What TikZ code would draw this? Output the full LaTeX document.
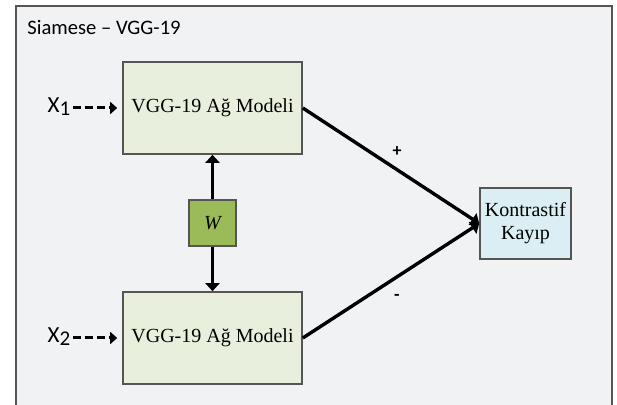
\documentclass[tikz,border=0pt]{standalone}
\usepackage{fontspec}
\setmainfont{Liberation Serif}
\setsansfont{Carlito}
\usepackage{tikz}
\usetikzlibrary{arrows.meta,calc}

\definecolor{framebg}{HTML}{F1F2F4}
\definecolor{netfill}{HTML}{E8EFDC}
\definecolor{wfill}{HTML}{9BBB59}
\definecolor{lossfill}{HTML}{DAEEF3}
\definecolor{edgegray}{HTML}{555555}

\tikzset{
	netbox/.style={draw=edgegray, line width=0.8pt, fill=netfill, minimum width=89.5pt, minimum height=46pt, inner sep=0pt, font=\fontsize{10}{11}\selectfont},
	wbox/.style={draw=edgegray, line width=0.8pt, fill=wfill, minimum width=23.5pt, minimum height=23pt, inner sep=0pt, font=\fontsize{10}{12}\selectfont\itshape},
	lossbox/.style={draw=edgegray, line width=0.8pt, fill=lossfill, minimum width=45.5pt, minimum height=35.5pt, inner sep=0pt, align=center, font=\fontsize{10}{11.5}\selectfont},
	inlabel/.style={font=\sffamily\fontsize{11.5}{12}\selectfont, inner sep=0pt},
	signlabel/.style={font=\sffamily\bfseries\fontsize{9}{10}\selectfont, inner sep=0pt},
	feed/.style={line width=1.5pt, dash pattern=on 4pt off 2pt, -{Triangle[width=6pt,length=3.5pt]}},
	flow/.style={line width=1.7pt, -{Triangle[width=7pt,length=4pt]}}
}

\begin{document}
\begin{tikzpicture}[x=0.5pt, y=-0.5pt]
		%----------------------------------------------------
		% Canvas and outer frame (open at the bottom)
		%----------------------------------------------------
		\useasboundingbox (0,0) rectangle (617,405);
		\fill[framebg] (16,6) rectangle (612,405);
		\draw[edgegray, line width=0.8pt] (16,405) -- (16,6) -- (612,6) -- (612,405);
		\node[anchor=west, font=\sffamily\fontsize{10.3}{12}\selectfont, inner sep=0pt] (title) at (27,27) {Siamese -- VGG-19};
		
		%----------------------------------------------------
		% The two branches and the shared weights
		%----------------------------------------------------
		\node[netbox] (netA) at (212.5,108) {VGG-19 Ağ Modeli};
		\node[netbox] (netB) at (212.5,338) {VGG-19 Ağ Modeli};
		\node[wbox] (W) at (212.5,223) {W};
		\node[lossbox] (loss) at (525.5,223.5) {Kontrastif\\Kayıp};
		
		\node[inlabel] (xA) at (59,107) {X\raisebox{-1.5pt}{\fontsize{10.5}{11}\selectfont 1}};
		\node[inlabel] (xB) at (59,337) {X\raisebox{-1.5pt}{\fontsize{10.5}{11}\selectfont 2}};
		
		%----------------------------------------------------
		% Connectors
		%----------------------------------------------------
		\draw[feed, shorten >=2.5pt] (xA.east) ++(2,1) coordinate (xAs) -- (xAs -| netA.west);
		\draw[feed, shorten >=2.5pt] (xB.east) ++(2,1) coordinate (xBs) -- (xBs -| netB.west);
		
		\draw[flow] (W.north) -- (netA.south);
		\draw[flow] (W.south) -- (netB.north);
		
		\draw[flow] (netA.east) -- (loss.west) node[signlabel, pos=0.5, above=4pt, xshift=3pt] (plus) {+};
		\draw[flow] (netB.east) -- (loss.west) node[signlabel, pos=0.5, below=6pt, xshift=3pt] (minus) {-};
\end{tikzpicture}
\end{document}
